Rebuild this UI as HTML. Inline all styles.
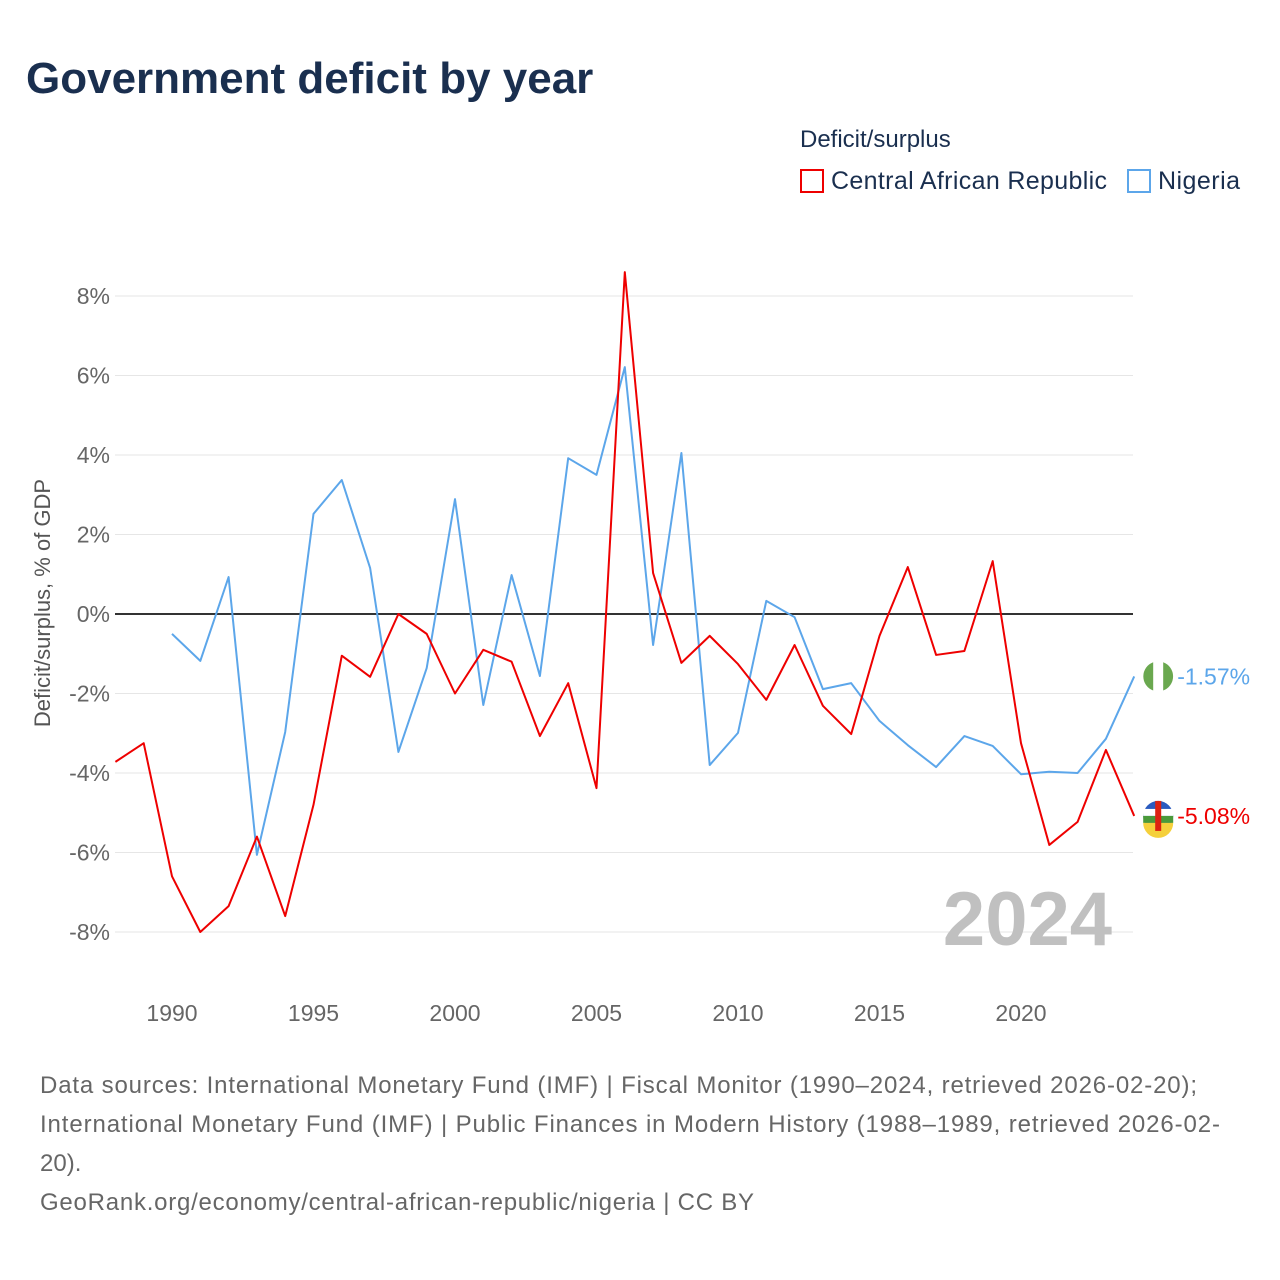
<!DOCTYPE html>
<html><head><meta charset="utf-8"><style>
body{margin:0;background:#fff;font-family:"Liberation Sans",sans-serif;}
#wrap{position:relative;width:1280px;height:1280px;overflow:hidden}
</style></head><body>
<div id="wrap">
<svg id="svg" width="1280" height="1280" xmlns="http://www.w3.org/2000/svg">
<text x="26" y="93" font-size="44" font-weight="bold" fill="#1a2f4f">Government deficit by year</text>
<text x="800" y="147" font-size="24" fill="#1a2f4f">Deficit/surplus</text>
<g><rect x="801" y="170" width="22" height="22" fill="#fff" stroke="#ee0000" stroke-width="2"/><text x="831" y="189" font-size="25" fill="#1a2f4f" textLength="276">Central African Republic</text></g>
<g><rect x="1128" y="170" width="22" height="22" fill="#fff" stroke="#5ca6ea" stroke-width="2"/><text x="1158" y="189" font-size="25" fill="#1a2f4f" textLength="82">Nigeria</text></g>
<text transform="translate(50,603) rotate(-90)" text-anchor="middle" font-size="22" fill="#555">Deficit/surplus, % of GDP</text>
<g id="grid"></g><g id="xt"></g><g id="lines"></g>
<text x="1112" y="945" text-anchor="end" font-size="76" font-weight="bold" fill="#c0c0c0">2024</text>
<text x="40" y="1093" font-size="24" fill="#666" textLength="1157">Data sources: International Monetary Fund (IMF) | Fiscal Monitor (1990–2024, retrieved 2026-02-20);</text>
<text x="40" y="1132" font-size="24" fill="#666" textLength="1180">International Monetary Fund (IMF) | Public Finances in Modern History (1988–1989, retrieved 2026-02-</text>
<text x="40" y="1171" font-size="24" fill="#666">20).</text>
<text x="40" y="1210" font-size="24" fill="#666" textLength="714">GeoRank.org/economy/central-african-republic/nigeria | CC BY</text>
</svg></div>
<script>
const yTicks=[-8,-6,-4,-2,0,2,4,6,8];
const xTicks=[1990,1995,2000,2005,2010,2015,2020];
const carYears=[1988,1989,1990,1991,1992,1993,1994,1995,1996,1997,1998,1999,2000,2001,2002,2003,2004,2005,2006,2007,2008,2009,2010,2011,2012,2013,2014,2015,2016,2017,2018,2019,2020,2021,2022,2023,2024];
const carValues=[-3.72,-3.25,-6.6,-8.0,-7.35,-5.6,-7.6,-4.8,-1.05,-1.58,0.0,-0.5,-2.0,-0.9,-1.2,-3.07,-1.74,-4.38,8.6,1.03,-1.23,-0.55,-1.26,-2.16,-0.78,-2.31,-3.02,-0.55,1.18,-1.03,-0.93,1.33,-3.25,-5.81,-5.23,-3.42,-5.08];
const ngaYears=[1990,1991,1992,1993,1994,1995,1996,1997,1998,1999,2000,2001,2002,2003,2004,2005,2006,2007,2008,2009,2010,2011,2012,2013,2014,2015,2016,2017,2018,2019,2020,2021,2022,2023,2024];
const ngaValues=[-0.5,-1.18,0.93,-6.06,-2.97,2.52,3.37,1.16,-3.47,-1.36,2.89,-2.29,0.98,-1.56,3.92,3.5,6.21,-0.78,4.05,-3.8,-2.99,0.33,-0.08,-1.89,-1.74,-2.69,-3.3,-3.85,-3.07,-3.32,-4.03,-3.97,-4.0,-3.14,-1.57];
const X=y=>172+(y-1990)*28.3;
const Y=v=>614-v*39.75;
const NS="http://www.w3.org/2000/svg";
function mk(t,a,p){const e=document.createElementNS(NS,t);for(const k in a)e.setAttribute(k,a[k]);p.appendChild(e);return e;}
const grid=document.getElementById('grid');
yTicks.forEach(v=>{
 const l=mk('line',{x1:115,x2:1133,y1:Y(v),y2:Y(v),stroke:v===0?'#333':'#e6e6e6','stroke-width':v===0?2:1},grid);
 
 
 const t=mk('text',{x:110,y:Y(v)+8,'text-anchor':'end','font-size':23,fill:'#666'},grid);
 t.textContent=v+'%';
 
 
});
const xt=document.getElementById('xt');
xTicks.forEach(y=>{
 const t=mk('text',{x:X(y),y:1021,'text-anchor':'middle','font-size':23,fill:'#666'},xt);
 t.textContent=y;
 
 
});
const lines=document.getElementById('lines');
function series(ys,vs,c,name){
 const p=mk('polyline',{points:ys.map((y,i)=>X(y)+','+Y(vs[i])).join(' '),fill:'none',stroke:c,'stroke-width':2,'stroke-linejoin':'round'},lines);
 
 
 const last=vs[vs.length-1],lx=X(ys[ys.length-1])+24,ly=Y(last);
 const c1=mk('circle',{cx:lx,cy:ly,r:15,fill:name==='nigeria'?'#fff':'#2a5bbf'},lines);
 
 
 if(name==='nigeria'){
  mk('path',{d:`M${lx-5},${ly-14.1} A15,15 0 0 0 ${lx-5},${ly+14.1} Z`,fill:'#6aa84f'},lines);
  mk('path',{d:`M${lx+5},${ly-14.1} A15,15 0 0 1 ${lx+5},${ly+14.1} Z`,fill:'#6aa84f'},lines);
 } else {
  mk('rect',{x:lx-15,y:ly-7,width:30,height:7,fill:'#fff'},lines);
  mk('rect',{x:lx-15,y:ly,width:30,height:7,fill:'#4a9a3a'},lines);
  mk('path',{d:`M${lx-15},${ly+7} L${lx+15},${ly+7} A15,15 0 0 1 ${lx-15},${ly+7}Z`,fill:'#f5d03b'},lines);
  mk('rect',{x:lx-3,y:ly-15,width:6,height:30,fill:'#d21'},lines);
 }
 const t=mk('text',{x:lx+19,y:ly+8,'font-size':23,fill:c},lines);
 t.textContent=last.toFixed(2)+'%';
 
 
}
series(ngaYears,ngaValues,'#5ca6ea','nigeria');
series(carYears,carValues,'#ee0000','car');
</script>
</body></html>
